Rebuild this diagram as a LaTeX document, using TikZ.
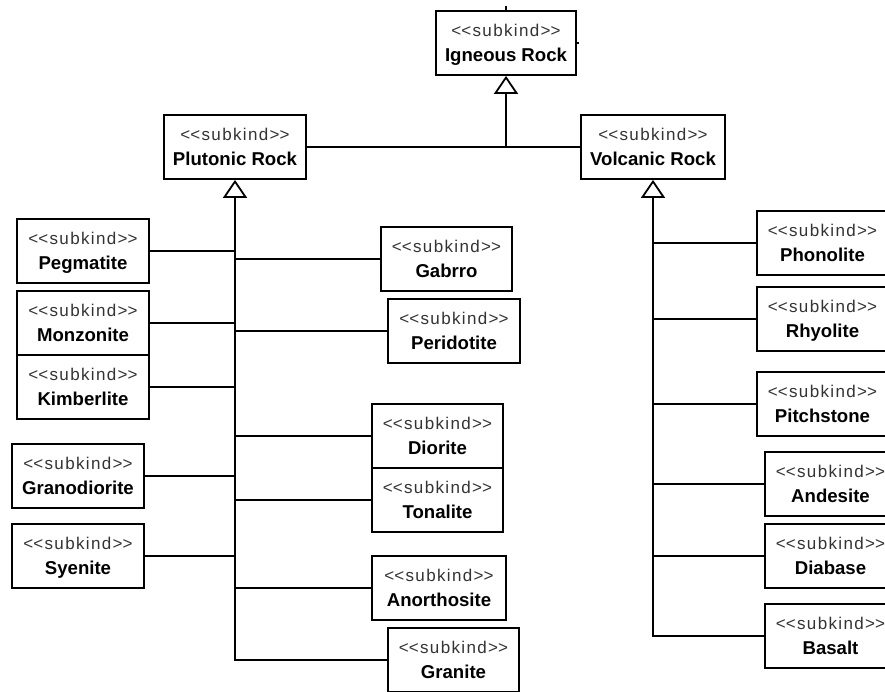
\documentclass[tikz,border=0pt]{standalone}
\usepackage{fontspec}
\setmainfont{Liberation Sans}
\newfontfamily\stereofont[LetterSpace=8]{Liberation Sans}
\usetikzlibrary{arrows.meta}

\definecolor{stereogray}{HTML}{333333}

\tikzset{
  kbox/.style={draw=black, line width=1.8pt, fill=white, minimum height=64pt, inner sep=0pt},
  stereo/.style={anchor=base, inner sep=0pt, text=stereogray,
    font=\stereofont\fontsize{17}{20}\selectfont},
  kname/.style={anchor=base, inner sep=0pt, text=black,
    font=\fontsize{18.6}{22}\selectfont\bfseries},
  link/.style={draw=black, line width=1.8pt},
  gen/.style={link, -{Triangle[open, length=18pt, width=24pt, line width=1.8pt]}},
}

% UML class box with a <<subkind>> stereotype: name, centre x, top y, width, label
\newcommand\kindbox[5]{%
  \node[kbox, minimum width=#4] (#1) at (#2, #3+32) {};
  \node[stereo] (#1-s) at (#2, #3+25) {<\kern0pt<subkind>\kern0pt>};
  \node[kname] (#1-n) at (#2, #3+50) {#5};
}

\begin{document}
\begin{tikzpicture}[x=1pt, y=-1pt]
  \fill[white] (0,0) rectangle (885,691);
  \useasboundingbox (0,0) rectangle (885,691);
  \clip (0,0) rectangle (885,691);

  % general kinds
  \kindbox{ign}{506}{11}{140}{Igneous Rock}
  \kindbox{plut}{235}{115}{142}{Plutonic Rock}
  \kindbox{volc}{653}{115}{144}{Volcanic Rock}

  % plutonic subkinds, left column
  \kindbox{peg}{83}{219}{132}{Pegmatite}
  \kindbox{monz}{83}{291}{132}{Monzonite}
  \kindbox{kimb}{83}{355}{132}{Kimberlite}
  \kindbox{grano}{78}{444}{132}{Granodiorite}
  \kindbox{syen}{78}{524}{132}{Syenite}

  % plutonic subkinds, right column
  \kindbox{gab}{446.5}{227}{131}{Gabrro}
  \kindbox{peri}{454}{299}{132}{Peridotite}
  \kindbox{dior}{437.5}{404}{131}{Diorite}
  \kindbox{tona}{437.5}{468}{131}{Tonalite}
  \kindbox{anor}{439}{556}{134}{Anorthosite}
  \kindbox{gran}{453.5}{628}{131}{Granite}

  % volcanic subkinds
  \kindbox{phon}{822.5}{211}{131}{Phonolite}
  \kindbox{rhyo}{822.5}{287}{131}{Rhyolite}
  \kindbox{pitch}{822.5}{372}{131}{Pitchstone}
  \kindbox{ande}{830.5}{452}{131}{Andesite}
  \kindbox{diab}{830.5}{524}{131}{Diabase}
  \kindbox{basa}{830.5}{604}{131}{Basalt}

  % stubs of connectors leaving the top box
  \coordinate (stub) at (506,6);
  \coordinate (tick) at (579,43);
  \draw[link] (ign.north) -- (stub);
  \draw[link, line width=1.5pt] (ign.east) -- (tick);

  % Igneous Rock generalization
  \draw[link] (plut.east) -- (volc.west);
  \draw[gen] (plut.east -| ign.south) -- (ign.south);

  % Plutonic Rock generalization set
  \draw[gen] (gran.west) -| (plut.south);
  \foreach \k in {peg, monz, kimb, grano, syen}
    \draw[link] (\k.east) -- (\k.east -| plut.south);
  \foreach \k in {gab, peri, dior, tona, anor}
    \draw[link] (\k.west) -- (\k.west -| plut.south);

  % Volcanic Rock generalization set
  \draw[gen] (basa.west) -| (volc.south);
  \foreach \k in {phon, rhyo, pitch, ande, diab}
    \draw[link] (\k.west) -- (\k.west -| volc.south);
\end{tikzpicture}
\end{document}
